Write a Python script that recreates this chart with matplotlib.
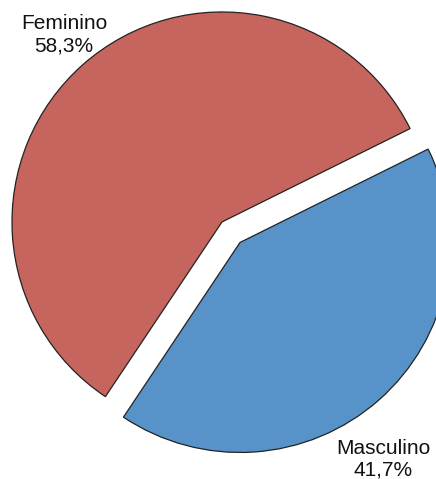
import matplotlib.pyplot as plt

labels = ["Feminino", "Masculino"]
shares = [58.3, 41.7]
colors = ["#C6655E", "#5792C8"]

plt.rcParams["font.family"] = ["Liberation Sans", "DejaVu Sans"]

fig = plt.figure(figsize=(4.36, 4.79), dpi=100)
ax = fig.add_axes([0, 0, 1, 1])

wedges, _ = ax.pie(
    shares,
    colors=colors,
    startangle=26.4,
    counterclock=True,
    explode=[0, 0.13],
    radius=1.0,
    wedgeprops=dict(edgecolor="#222222", linewidth=0.9),
)

ax.set_aspect("equal")
ax.set_xlim(-1.057, 1.019)
ax.set_ylim(-1.224, 1.057)
ax.axis("off")

label_pos = [(-0.752, 0.89), (0.767, -1.13)]
for name, val, (x, y) in zip(labels, shares, label_pos):
    txt = f"{val:.1f}%".replace(".", ",")
    ax.text(x, y, f"{name}\n{txt}", ha="center", va="center",
            fontsize=15, linespacing=1.22, color="#111111")

fig.savefig("out.png", dpi=100)
